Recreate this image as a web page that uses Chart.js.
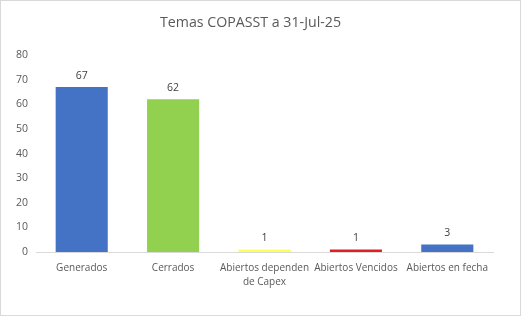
<!DOCTYPE html>
<html>
<head>
<meta charset="utf-8">
<script src="https://cdn.jsdelivr.net/npm/chart.js@4"></script>
<style>
    html, body { margin: 0; padding: 0; background: #fff; }
    #wrap {
        position: absolute; left: 0; top: 0;
        width: 519px; height: 314px;
        border: 1px solid #d9d9d9;
        background: #fff;
    }
</style>
</head>
<body>
<div id="wrap"><canvas id="temasChart" width="519" height="314"></canvas></div>
<script>
const categories = ["Generados", "Cerrados", ["Abiertos dependen", "de Capex"], "Abiertos Vencidos", "Abiertos en fecha"];
const values = [67, 62, 1, 1, 3];
const barColors = ["#4472c4", "#92d050", "#ffff55", "#e02020", "#4472c4"];
const yTicks = [0, 10, 20, 30, 40, 50, 60, 70, 80];

const ctx = document.getElementById("temasChart").getContext("2d");

new Chart(ctx, {
    type: "bar",
    data: {
        labels: categories,
        datasets: [{
            data: values,
            backgroundColor: barColors,
            borderWidth: 0,
            barPercentage: 0.57,
            categoryPercentage: 1
        }]
    },
    options: {
        responsive: false,
        animation: false,
        layout: { padding: { left: 7, right: 27, top: 0, bottom: 17 } },
        plugins: {
            legend: { display: false },
            tooltip: { enabled: false },
            title: {
                display: true,
                text: "Temas COPASST a 31-Jul-25",
                color: "#595959",
                font: { family: "Open Sans", size: 14.2, weight: "normal" },
                padding: { top: 13, bottom: 24 }
            }
        },
        scales: {
            x: {
                grid: { display: false, drawTicks: false },
                border: { color: "#d9d9d9" },
                ticks: {
                    color: "#595959",
                    font: { family: "Open Sans", size: 10, lineHeight: 1.4 },
                    maxRotation: 0,
                    autoSkip: false,
                    padding: 9
                }
            },
            y: {
                min: 0,
                max: 80,
                afterBuildTicks: function(axis) {
                    axis.ticks = yTicks.map(v => ({ value: v }));
                },
                grid: { display: false, drawTicks: false },
                border: { display: false },
                ticks: {
                    color: "#595959",
                    font: { family: "Open Sans", size: 10.5 },
                    padding: 8
                }
            }
        }
    },
    plugins: [{
        afterDatasetsDraw: function(chart) {
            const c = chart.ctx;
            const meta = chart.getDatasetMeta(0);
            c.save();
            c.fillStyle = "#404040";
            c.font = "10.5px 'Open Sans'";
            c.textAlign = "center";
            c.textBaseline = "bottom";
            meta.data.forEach((bar, i) => {
                c.fillText(String(values[i]), bar.x, bar.y - 6);
            });
            c.restore();
        }
    }]
});
</script>
</body>
</html>
